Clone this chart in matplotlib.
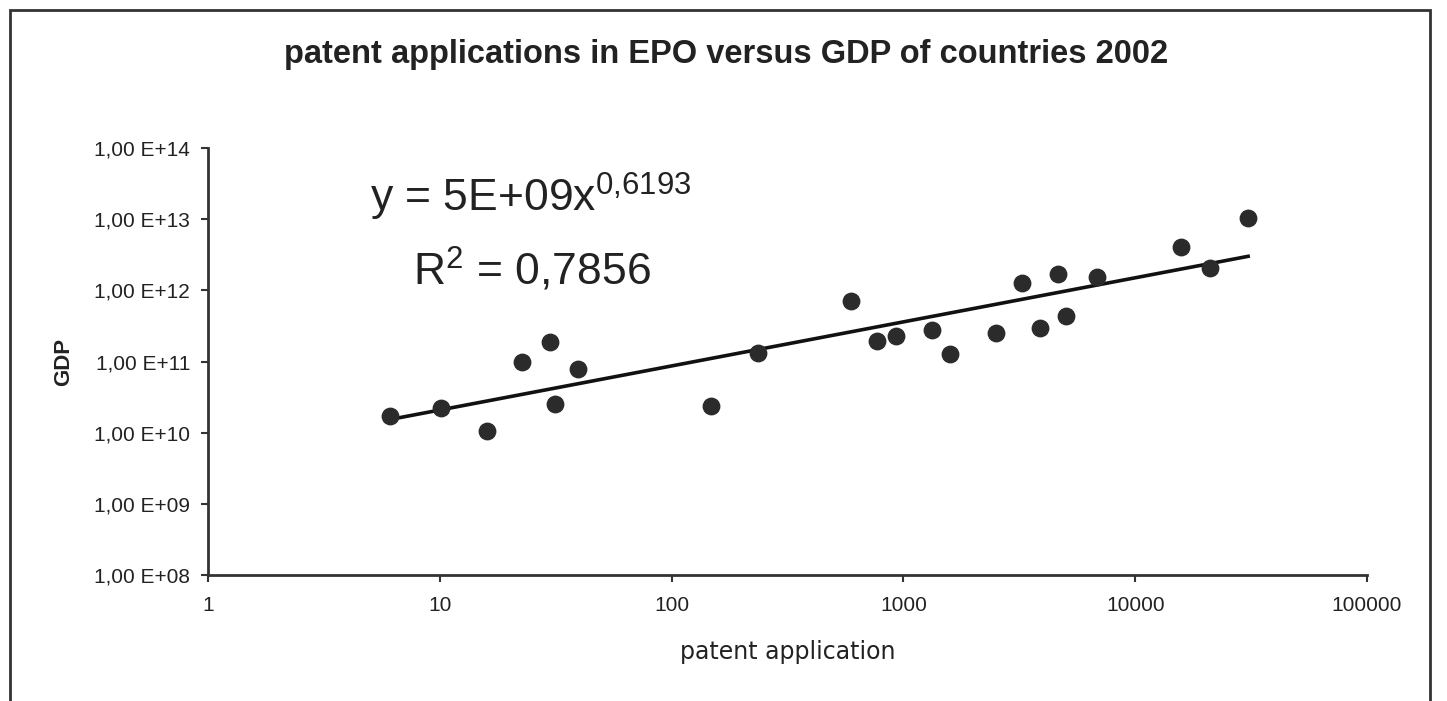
import numpy as np
import matplotlib.pyplot as plt
from matplotlib.patches import Rectangle

# patent applications (x) vs GDP (y)
patents = [6.1, 10.1, 16, 22.6, 30, 31.4, 39.5, 148, 236, 594, 769, 929, 1328, 1590,
           2500, 3250, 3880, 4660, 5040, 6840, 15800, 21000, 30700]
gdp = [1.7e10, 2.2e10, 1.05e10, 9.8e10, 1.9e11, 2.5e10, 7.8e10, 2.35e10, 1.3e11, 7e11,
       1.94e11, 2.3e11, 2.8e11, 1.26e11, 2.5e11, 1.26e12, 3.0e11, 1.7e12, 4.35e11,
       1.55e12, 4.1e12, 2.05e12, 1.03e13]

# power trendline from the chart's label
coef_a = 5e9
coef_b = 0.6193

x_ticks = [1, 10, 100, 1000, 10000, 100000]
x_labels = ['1', '10', '100', '1000', '10000', '100000']
y_ticks = [1e8, 1e9, 1e10, 1e11, 1e12, 1e13, 1e14]
y_labels = ['1,00 E+08', '1,00 E+09', '1,00 E+10', '1,00 E+11',
            '1,00 E+12', '1,00 E+13', '1,00 E+14']

plt.rcParams['font.family'] = ['Liberation Sans', 'DejaVu Sans']
plt.rcParams['mathtext.fontset'] = 'custom'
plt.rcParams['mathtext.rm'] = 'Liberation Sans'
plt.rcParams['mathtext.default'] = 'regular'

fig = plt.figure(figsize=(14.47, 7.01), dpi=100)
fig.patches.append(Rectangle((10 / 1447, -0.05), 1420 / 1447, 1 - 10 / 701 + 0.05,
                             transform=fig.transFigure, fill=False,
                             edgecolor='#333333', linewidth=2))

ax = fig.add_axes([208 / 1447, 126 / 701, 1159 / 1447, 427 / 701])
ax.set_xscale('log')
ax.set_yscale('log')
ax.set_xlim(1, 100000)
ax.set_ylim(1e8, 1e14)

ax.scatter(patents, gdp, s=140, color='#2b2b2b', zorder=3)

tx = np.geomspace(min(patents), max(patents), 50)
ax.plot(tx, coef_a * tx ** coef_b, color='#111111', linewidth=2.6, zorder=2)

ax.set_xticks(x_ticks)
ax.set_xticklabels(x_labels)
ax.set_yticks(y_ticks)
ax.set_yticklabels(y_labels)
ax.minorticks_off()
for s in ['top', 'right']:
    ax.spines[s].set_visible(False)
for s in ['left', 'bottom']:
    ax.spines[s].set_linewidth(2)
    ax.spines[s].set_color('#333333')
ax.tick_params(axis='both', direction='out', length=5, width=1.5, colors='#333333',
               labelcolor='#222222', labelsize=15)
ax.tick_params(axis='x', pad=10)
ax.tick_params(axis='y', pad=8)

ax.set_xlabel('patent application', fontsize=17, labelpad=18, color='#222222',
              family='DejaVu Sans')
ax.set_ylabel('GDP', fontsize=16, fontweight='bold', labelpad=14, color='#222222')

fig.text(726 / 1447, 1 - 55 / 701, 'patent applications in EPO versus GDP of countries 2002',
         ha='center', va='center', fontsize=23.5, fontweight='bold', color='#222222')

ax.text(0.14, 0.885, r'y = 5E+09x$^{0{,}6193}$', transform=ax.transAxes, fontsize=32,
        color='#222222', va='center')
ax.text(0.177, 0.715, r'R$^{2}$ = 0,7856', transform=ax.transAxes, fontsize=32,
        color='#222222', va='center')

fig.savefig('out.png', dpi=100)
